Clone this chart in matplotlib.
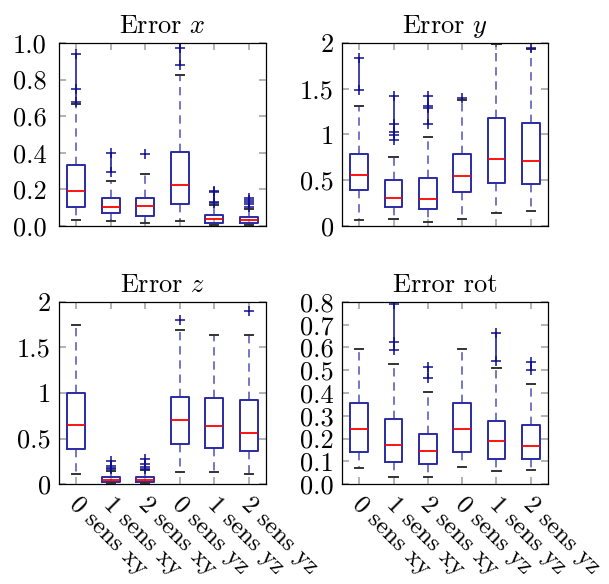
import matplotlib
matplotlib.use("Agg")
import matplotlib.pyplot as plt
from matplotlib.transforms import ScaledTranslation

plt.rcParams["font.family"] = "serif"
plt.rcParams["font.serif"] = ["cmr10"]
plt.rcParams["mathtext.fontset"] = "cm"
plt.rcParams["axes.unicode_minus"] = False
plt.rcParams["axes.formatter.use_mathtext"] = True

# Datos (estadisticos de cada caja)
labels = ["0 sens xy", "1 sens xy", "2 sens xy", "0 sens yz", "1 sens yz", "2 sens yz"]

err_x_q1 = [0.105, 0.069, 0.055, 0.120, 0.018, 0.015]
err_x_med = [0.193, 0.102, 0.107, 0.224, 0.038, 0.031]
err_x_q3 = [0.333, 0.151, 0.153, 0.405, 0.060, 0.051]
err_x_lo = [0.033, 0.027, 0.015, 0.027, 0.005, 0.004]
err_x_hi = [0.669, 0.245, 0.285, 0.827, 0.115, 0.095]
err_x_fl = [[0.68, 0.75, 0.94], [0.293, 0.40], [0.391], [0.882, 0.973, 1.05],
            [0.125, 0.133, 0.186, 0.193],
            [0.104, 0.118, 0.13, 0.142, 0.155]]

err_y_q1 = [0.389, 0.211, 0.182, 0.371, 0.473, 0.458]
err_y_med = [0.556, 0.309, 0.295, 0.545, 0.735, 0.705]
err_y_q3 = [0.782, 0.502, 0.527, 0.782, 1.185, 1.131]
err_y_lo = [0.065, 0.073, 0.047, 0.073, 0.138, 0.164]
err_y_hi = [1.31, 0.756, 0.975, 1.375, 1.99, 1.93]
err_y_fl = [[1.49, 1.84], [0.94, 0.99, 1.03, 1.11, 1.42],
            [1.12, 1.29, 1.31, 1.42], [1.40], [], [1.95]]

err_z_q1 = [0.384, 0.026, 0.026, 0.435, 0.391, 0.366]
err_z_med = [0.647, 0.040, 0.045, 0.698, 0.636, 0.556]
err_z_q3 = [1.005, 0.073, 0.080, 0.958, 0.940, 0.918]
err_z_lo = [0.106, 0.015, 0.012, 0.135, 0.135, 0.106]
err_z_hi = [1.751, 0.145, 0.150, 1.697, 1.634, 1.634]
err_z_fl = [[], [0.16, 0.18, 0.20, 0.25],
            [0.17, 0.19, 0.22, 0.28], [1.80], [], [1.898]]

err_r_q1 = [0.140, 0.098, 0.086, 0.142, 0.110, 0.111]
err_r_med = [0.240, 0.171, 0.143, 0.240, 0.189, 0.167]
err_r_q3 = [0.354, 0.284, 0.222, 0.357, 0.279, 0.259]
err_r_lo = [0.069, 0.032, 0.029, 0.073, 0.057, 0.061]
err_r_hi = [0.592, 0.527, 0.405, 0.592, 0.512, 0.439]
err_r_fl = [[], [0.59, 0.625, 0.79], [0.465, 0.515], [], [0.54, 0.665], [0.50, 0.535]]

BLUE = "#2a2aa5"
FL_BLUE = "#10108f"
TICK_GRAY = "#a6a6a6"
FS = 19


def cajas(ax, q1, med, q3, lo, hi, fl):
    stats = []
    for i in range(len(q1)):
        stats.append({"med": med[i], "q1": q1[i], "q3": q3[i],
                      "whislo": lo[i], "whishi": hi[i], "fliers": []})
    pos = list(range(1, len(stats) + 1))
    ax.bxp(stats, positions=pos, widths=0.52, capwidths=0.24, showfliers=False,
           boxprops=dict(color=BLUE, linewidth=1.4),
           whiskerprops=dict(color=BLUE, linewidth=1.2, linestyle=(0, (5, 3.5)), alpha=0.75),
           capprops=dict(color="#333333", linewidth=1.4),
           medianprops=dict(color="red", linewidth=1.3))
    for p, f in zip(pos, fl):
        if f:
            ax.plot([p] * len(f), f, color=FL_BLUE, marker="+", markersize=7.5,
                    markeredgewidth=1.1, linewidth=1.1, clip_on=True)
    ax.set_xlim(0.5, 6.5)
    ax.set_xticks(pos)
    ax.tick_params(axis="both", direction="in", length=5, width=1.2, color=TICK_GRAY,
                   top=True, right=True, labelsize=FS)
    for s in ax.spines.values():
        s.set_linewidth(0.9)
    return pos


fig = plt.figure(figsize=(6.09, 5.84), dpi=100)

ax1 = fig.add_axes([0.0969, 0.6130, 0.3399, 0.3134])
ax2 = fig.add_axes([0.5616, 0.6130, 0.3382, 0.3134])
ax3 = fig.add_axes([0.0969, 0.1712, 0.3399, 0.3117])
ax4 = fig.add_axes([0.5616, 0.1712, 0.3382, 0.3117])

cajas(ax1, err_x_q1, err_x_med, err_x_q3, err_x_lo, err_x_hi, err_x_fl)
cajas(ax2, err_y_q1, err_y_med, err_y_q3, err_y_lo, err_y_hi, err_y_fl)
cajas(ax3, err_z_q1, err_z_med, err_z_q3, err_z_lo, err_z_hi, err_z_fl)
cajas(ax4, err_r_q1, err_r_med, err_r_q3, err_r_lo, err_r_hi, err_r_fl)

# -------- Eje y --------
ax1.set_ylim(0, 1.0)
ax1.set_yticks([0, 0.2, 0.4, 0.6, 0.8, 1.0])
ax1.set_yticklabels(["0.0", "0.2", "0.4", "0.6", "0.8", "1.0"])
ax1.tick_params(axis="y", pad=9)

for ax in (ax2, ax3):
    ax.set_ylim(0, 2)
    ax.set_yticks([0, 0.5, 1, 1.5, 2])
    ax.set_yticklabels(["0", "0.5", "1", "1.5", "2"])
    ax.tick_params(axis="y", pad=6)

ax4.set_ylim(0, 0.8)
ax4.set_yticks([0, 0.1, 0.2, 0.3, 0.4, 0.5, 0.6, 0.7, 0.8])
ax4.set_yticklabels(["0.0", "0.1", "0.2", "0.3", "0.4", "0.5", "0.6", "0.7", "0.8"])
ax4.tick_params(axis="y", pad=6)

# -------- Eje x --------
for ax in (ax1, ax2):
    ax.set_xticklabels([])
desplaza = ScaledTranslation(3 / 72, -3 / 72, fig.dpi_scale_trans)
for ax in (ax3, ax4):
    ax.set_xticklabels(labels, rotation=-45, ha="left", va="top", rotation_mode="anchor",
                       fontsize=18)
    ax.tick_params(axis="x", pad=4)
    for t in ax.get_xticklabels():
        t.set_transform(t.get_transform() + desplaza)

# -------- Titulos --------
ax1.set_title("Error $x$", fontsize=FS, pad=7)
ax2.set_title("Error $y$", fontsize=FS, pad=7)
ax3.set_title("Error $z$", fontsize=FS, pad=7)
ax4.set_title("Error rot", fontsize=FS, pad=7)

fig.savefig("out.png", dpi=100)
